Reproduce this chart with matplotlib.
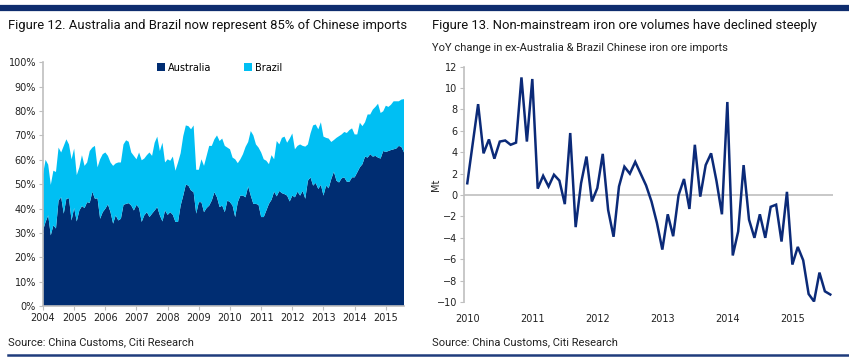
import numpy as np
import matplotlib
matplotlib.use("Agg")
import matplotlib.pyplot as plt
from matplotlib.ticker import MultipleLocator, FuncFormatter

NAVY = "#002D72"
LIGHT = "#00BFF3"
LINE = "#0B2A78"
GREY_TXT = "#222222"
NARROW = ["Liberation Sans Narrow", "Roboto", "DejaVu Sans"]

# Figure 12: share of Chinese iron ore imports, monthly Jan 2004 - Aug 2015 (%)
australia = [31, 34.5, 37.2, 29, 33.1, 31.8, 43.3, 44.6, 37.9, 44, 44.2, 35.1,
             40.2, 34.7, 39.2, 41, 40.2, 42.6, 42.3, 46.9, 44, 44.2, 35.8, 38.5,
             39.9, 41.7, 38.5, 33.8, 37.2, 35.1, 35.8, 41.5, 41.9, 42.2, 41.2, 39.2,
             41.5, 40.2, 34.5, 37.2, 38.5, 36.5, 37.9, 39.2, 40.6, 37.2, 34.7, 39.2,
             37.4, 38.5, 37.4, 34.5, 34.5, 41.2, 45.3, 49.8, 49.4, 47.4, 46.7, 37.9,
             42.6, 42.6, 38.5, 40.2, 41.2, 43.3, 46.7, 44.6, 40.6, 41.2, 38.5, 43.3,
             42.6, 41.2, 36.5, 42.6, 45.3, 45.3, 44.6, 49.1, 45.3, 41.9, 41.9, 41.5,
             36.5, 36.5, 39.2, 41.9, 43.6, 46.9, 45, 47.2, 46.3, 45.9, 45.3, 42.9,
             45.3, 44.6, 46.9, 45.3, 47.2, 44, 51.4, 52.8, 49.4, 50.5, 48, 49.7,
             45.3, 49.4, 48.3, 52.1, 55.1, 51.4, 50.7, 52.4, 52.8, 51, 51, 52.8,
             52.8, 54.8, 56.9, 58.2, 61.3, 60.9, 62.3, 61.3, 61.6, 60.9, 60.5, 63.6,
             63.2, 63.6, 64, 64.3, 64.6, 65.7, 65.3, 63]
total = [54, 60, 58, 49.7, 55.5, 55, 65, 63, 65.7, 68.4, 66.3, 60.2,
         64.6, 53.7, 56.9, 61.9, 57.5, 58.9, 63.6, 65, 65.7, 56.9, 60.2, 62.3,
         63, 61.6, 58.9, 57.5, 58.5, 58.9, 58.9, 66.3, 68, 67.4, 63, 61.6,
         60.2, 63, 59.8, 60.5, 61.9, 63, 61.6, 67, 69.5, 63.6, 67, 58.9,
         60.2, 59.6, 61.3, 55.5, 58.9, 62.7, 69.7, 74.1, 73.8, 72.5, 74.1, 55.9,
         55.9, 60.2, 57.5, 61.6, 65.7, 65.7, 68.4, 70, 67.7, 68.7, 65.7, 65,
         64.3, 60.9, 60.2, 58.6, 60.2, 62.3, 65.3, 67.3, 71.8, 70, 66.3, 65,
         63, 60.2, 59.6, 58.2, 61.9, 60.2, 67.7, 66.3, 69, 69.5, 67, 68.7,
         70.8, 64.3, 65.7, 66.3, 65.7, 65.4, 66.3, 70.8, 74.1, 74.5, 72.5, 75.4,
         69.5, 69, 68.7, 67.3, 68.1, 69, 69.7, 70.4, 71.4, 71, 72.2, 72.9,
         70.4, 70.4, 75.2, 73.8, 75.4, 78.6, 78.6, 80.6, 81.7, 83, 79.2, 79.9,
         82.2, 81.7, 82.6, 84, 84, 84, 84.7, 84.9]
brazil = [t - a for t, a in zip(total, australia)]
years_left = [str(y) for y in range(2004, 2016)]

# Figure 13: YoY change in ex-Australia & Brazil imports, Jan 2010 - Aug 2015 (Mt)
yoy = [1.1, 4.8, 8.5, 3.9, 5.2, 3.4, 5.0, 5.1, 4.7, 4.9, 11.0, 5.0,
       10.85, 0.6, 1.8, 0.8, 1.9, 1.35, -0.85, 5.8, -3.0, 1.1, 3.6, -0.6,
       0.65, 3.85, -1.4, -3.9, 0.8, 2.65, 2.0, 3.1, 2.0, 0.9, -0.6, -2.6,
       -5.1, -1.8, -3.85, 0.0, 1.5, -1.3, 4.7, -0.15, 2.8, 3.9, 1.3, -1.8,
       8.7, -5.65, -3.4, 2.8, -2.3, -4.0, -1.8, -4.0, -1.1, -0.9, -4.35, 0.3,
       -6.5, -4.85, -6.1, -9.25, -9.95, -7.25, -9.0, -9.3]
years_right = [str(y) for y in range(2010, 2016)]

W, H = 849, 363
fig = plt.figure(figsize=(W / 100, H / 100), dpi=100)


def box(x0, y0, x1, y1):
    return [x0 / W, 1 - y1 / H, (x1 - x0) / W, (y1 - y0) / H]


# ---- left chart
ax1 = fig.add_axes(box(43, 62.3, 404, 306))
x1 = np.arange(len(australia))
ax1.stackplot(x1, australia, brazil, colors=[NAVY, LIGHT], labels=["Australia", "Brazil"],
              linewidth=0)
ax1.set_xlim(0, len(australia) - 1)
ax1.set_ylim(0, 100)
ax1.yaxis.set_major_locator(MultipleLocator(10))
ax1.yaxis.set_major_formatter(FuncFormatter(lambda v, p: f"{v:.0f}%"))
ax1.set_xticks(np.arange(len(years_left)) * 12)
ax1.set_xticklabels(years_left)
for s in ["top", "right"]:
    ax1.spines[s].set_visible(False)
for s in ["left", "bottom"]:
    ax1.spines[s].set_color("#bfbfbf")
    ax1.spines[s].set_linewidth(1.2)
ax1.tick_params(axis="both", colors="#bfbfbf", length=3, width=0.8, labelsize=7,
                labelcolor=GREY_TXT, pad=2)
ax1.legend(loc="upper center", ncol=2, frameon=False, fontsize=7, handlelength=0.8,
           handleheight=0.8, handletextpad=0.3, columnspacing=3.4,
           bbox_to_anchor=(0.49, 1.035))

# ---- right chart
ax2 = fig.add_axes(box(464.3, 66.7, 833, 302))
x2 = np.arange(len(yoy))
ax2.plot(x2, yoy, color=LINE, linewidth=1.8, solid_joinstyle="miter")
ax2.axhline(0, color="#bfbfbf", linewidth=1.2, zorder=0)
ax2.set_xlim(-0.55, len(yoy) - 0.5)
ax2.set_ylim(-10, 12)
ax2.yaxis.set_major_locator(MultipleLocator(2))
ax2.set_xticks(np.arange(len(years_right)) * 12)
ax2.set_xticklabels(years_right)
for s in ["top", "right", "bottom"]:
    ax2.spines[s].set_visible(False)
ax2.spines["left"].set_color("#bfbfbf")
ax2.spines["left"].set_linewidth(1.2)
ax2.tick_params(axis="y", colors="#bfbfbf", length=3, width=0.8, labelsize=7,
                labelcolor=GREY_TXT, pad=2)
ax2.tick_params(axis="x", length=0, labelsize=7, labelcolor=GREY_TXT, pad=9)
ax2.set_ylabel("Mt", fontsize=7, color=GREY_TXT)
ax2.yaxis.set_label_coords(-0.063, 0.5)

# ---- titles, sources, rules
fig.text(8 / W, 1 - 25 / H, "Figure 12. Australia and Brazil now represent 85% of Chinese imports",
         family=NARROW, fontsize=9.4, color="#111111", va="center")
fig.text(432 / W, 1 - 25 / H, "Figure 13. Non-mainstream iron ore volumes have declined steeply",
         family=NARROW, fontsize=9.4, color="#111111", va="center")
fig.text(432 / W, 1 - 48 / H, "YoY change in ex-Australia & Brazil Chinese iron ore imports",
         family=NARROW, fontsize=8, color="#222222", va="center")
fig.text(8 / W, 1 - 342 / H, "Source: China Customs, Citi Research",
         family=NARROW, fontsize=8, color="#222222", va="center")
fig.text(432 / W, 1 - 342 / H, "Source: China Customs, Citi Research",
         family=NARROW, fontsize=8, color="#222222", va="center")

fig.add_artist(plt.Line2D([0, 1], [1 - 8 / H, 1 - 8 / H], color="#0F2D6E", linewidth=4.5))
fig.add_artist(plt.Line2D([8 / W, 1], [1 - 355 / H, 1 - 355 / H], color="#1F3C7C", linewidth=1.8))

fig.savefig("out.png", dpi=100)
